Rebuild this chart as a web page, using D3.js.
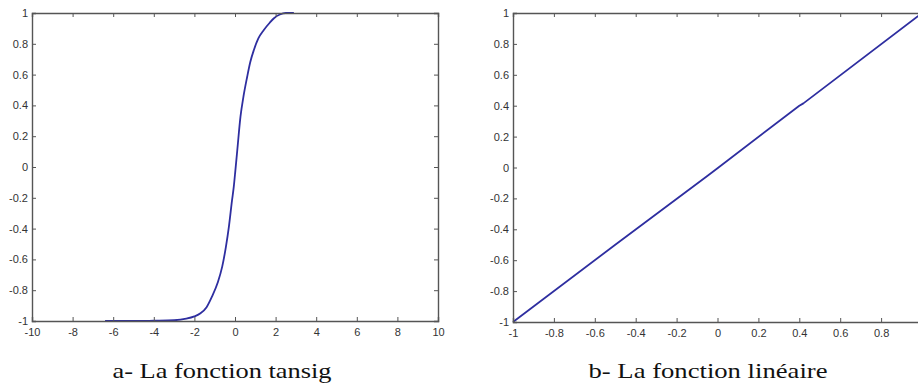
<!DOCTYPE html>
<html>
<head>
<meta charset="utf-8">
<script src="https://cdn.jsdelivr.net/npm/d3@7"></script>
<style>
  html, body { margin: 0; padding: 0; background: #fff; }
  svg { display: block; }
  .tick text { font-family: "Liberation Sans", Arial, sans-serif; font-size: 11px; fill: #333; }
  text.caption { font-family: 'Liberation Serif', Tinos, 'Times New Roman', Times, 'DejaVu Serif', serif; font-size: 21px; fill: #111; }
</style>
</head>
<body>
<svg id="svg" width="918" height="385"></svg>
<script>
// data
const tansigX = [-6.4, -5.0, -4.0, -3.0, -2.4, -2.0, -1.7, -1.4, -1.13, -0.85, -0.63, -0.45, -0.30, -0.15, -0.06, 0.02, 0.12, 0.27, 0.42, 0.60, 0.75, 0.93, 1.15, 1.42, 1.70, 1.92, 2.21, 2.50, 2.90];
const tansigY = [-1.0, -1.0, -0.998, -0.995, -0.985, -0.97, -0.95, -0.91, -0.84, -0.75, -0.647, -0.52, -0.387, -0.22, -0.128, -0.02, 0.12, 0.327, 0.46, 0.586, 0.68, 0.76, 0.835, 0.89, 0.935, 0.966, 0.99, 1.0, 1.0];
const linX = [-1, -0.5, -0.05, 0, 0.4, 0.42, 1];
const linY = [-1, -0.5, -0.055, -0.005, 0.4, 0.415, 1];

const xTicksA = [-10, -8, -6, -4, -2, 0, 2, 4, 6, 8, 10];
const xTicksB = [-1, -0.8, -0.6, -0.4, -0.2, 0, 0.2, 0.4, 0.6, 0.8];
const yTicks = [-1, -0.8, -0.6, -0.4, -0.2, 0, 0.2, 0.4, 0.6, 0.8, 1];

const captionA = "a- La fonction tansig";
const captionB = "b- La fonction linéaire";

const svg = d3.select('#svg');
const fmt = d => d3.format("")(d).replace("−", "-");

let drawPanel = (opts) => {
	const x = d3.scaleLinear().domain(opts.xDomain).range([opts.left, opts.right]);
	const y = d3.scaleLinear().domain([-1, 1]).range([opts.bottom, opts.top]);
	const g = svg.append('g');

	// curve
	const pts = opts.xs.map((v, i) => [v, opts.ys[i]]);
	g.append('path')
		.datum(pts)
		.attr('fill', 'none')
		.attr('stroke', '#2e2ea0')
		.attr('stroke-width', 1.8)
		.attr('stroke-linejoin', 'round')
		.attr('d', d3.line().x(d => x(d[0])).y(d => y(d[1])).curve(opts.curve));

	// axes, matlab style: ticks inward on all four sides
	const tickCol = '#555';
	const bottomAx = g.append('g').attr('transform', `translate(0,${opts.bottom})`)
		.call(d3.axisBottom(x).tickValues(opts.xTicks).tickFormat(fmt).tickSize(-4).tickPadding(9));
	const leftAx = g.append('g').attr('transform', `translate(${opts.left},0)`)
		.call(d3.axisLeft(y).tickValues(yTicks).tickFormat(fmt).tickSize(-4).tickPadding(4));
	const topAx = g.append('g').attr('transform', `translate(0,${opts.top})`)
		.call(d3.axisTop(x).tickValues(opts.xTicks).tickFormat('').tickSize(-4));
	const rightAx = g.append('g').attr('transform', `translate(${opts.right},0)`)
		.call(d3.axisRight(y).tickValues(yTicks).tickFormat('').tickSize(-4));
	[bottomAx, leftAx, topAx, rightAx].forEach(a => {
		a.select('.domain').attr('stroke', tickCol).attr('stroke-width', 1.4);
		a.selectAll('.tick line').attr('stroke', tickCol);
	});
	bottomAx.selectAll('.tick text').attr('dy', '0.5em');

	svg.append('text')
		.attr('class', 'caption')
		.attr('x', opts.capX)
		.attr('y', 378)
		.attr('text-anchor', 'middle')
		.attr('textLength', opts.capW)
		.attr('lengthAdjust', 'spacingAndGlyphs')
		.text(opts.caption);
};

drawPanel({xDomain: [-10, 10], left: 32, right: 438, top: 13, bottom: 321, curve: d3.curveMonotoneX,
	xs: tansigX, ys: tansigY, xTicks: xTicksA, caption: captionA, capX: 222, capW: 219});
drawPanel({xDomain: [-1, 1], left: 513, right: 922, top: 13, bottom: 322, curve: d3.curveLinear,
	xs: linX, ys: linY, xTicks: xTicksB, caption: captionB, capX: 708, capW: 239});
</script>
</body>
</html>
